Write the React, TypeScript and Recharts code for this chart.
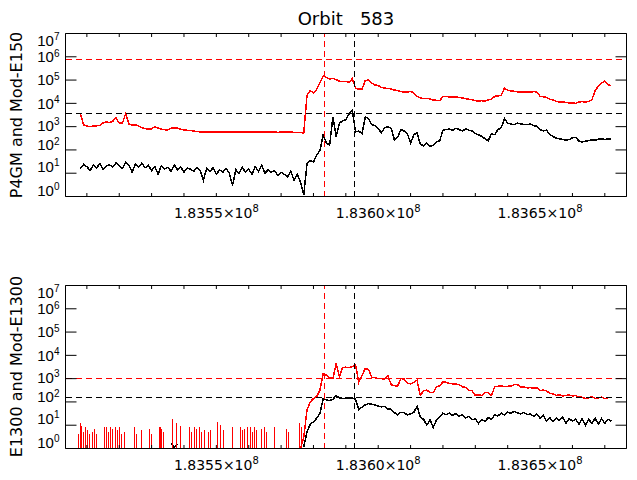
import React from 'react';
import { LineChart, Line, XAxis, YAxis, ReferenceLine } from 'recharts';

// sample times: T0 + i * DT
const T0 = 183508000;
const DT = 1000;

const TOP_RED = [
  3500, 1200, 1050, 1020, 1060, 1080, 1150, 1450, 1600, 1500,
  1700, 2400, 1400, 1450, 3600, 1300, 1150, 1200, 1050, 900,
  820, 800, 800, 1000, 870, 780, 740, 720, 850, 880,
  860, 780, 720, 700, 680, 650, 610, 600, 590, 600,
  595, 585, 590, 600, 590, 580, 590, 585, 575, 590,
  600, 590, 580, 585, 595, 590, 580, 575, 585, 590,
  580, 570, 585, 590, 575, 580, 570, 560, 555, 540,
  22000, 35000, 28000, 40000, 80000, 150000, 130000, 110000, 120000, 105000,
  90000, 85000, 88000, 80000, 115000, 45000, 40000, 42000, 95000, 100000,
  75000, 62000, 58000, 48000, 45000, 43000, 42000, 37000, 36000, 32000,
  31000, 30000, 33000, 28000, 20000, 17000, 16000, 16500, 15500, 14000,
  13500, 13000, 20000, 19500, 19000, 18500, 19000, 18000, 17000, 16000,
  15000, 14500, 13000, 12500, 13000, 12500, 14000, 15000, 20000, 21000,
  22000, 45000, 36000, 34000, 33000, 31000, 31000, 30000, 31000, 30000,
  32000, 31000, 20000, 19000, 18000, 15000, 14000, 12000, 11500, 11500,
  11000, 10500, 10500, 10000, 11500, 11800, 11500, 12000, 14000, 35000,
  55000, 75000, 90000, 62000, 58000,
];

const TOP_BLACK = [
  16, 24, 19, 13, 22, 17, 26, 15, 20, 23,
  18, 28, 21, 16, 30, 22, 11, 25, 19, 27,
  17, 22, 13, 19, 9, 21, 15, 18, 12, 23,
  14, 19, 11, 17, 15, 12, 18, 13, 5, 16,
  12, 17, 9, 14, 11, 16, 10, 3, 14, 10,
  18, 11, 15, 9, 19, 12, 22, 10, 14, 11,
  13, 8, 11, 9, 7, 12, 5, 9, 4, 1.2,
  25, 35, 30, 60, 95, 450, 200, 160, 2600, 380,
  1400, 1800, 2000, 3500, 5000, 600, 650, 500, 2600, 2200,
  1200, 1100, 800, 550, 900, 1000, 850, 270, 350, 750,
  650, 500, 200, 450, 550, 180, 150, 200, 140, 160,
  220, 250, 700, 750, 800, 700, 850, 750, 650, 800,
  700, 650, 500, 450, 380, 300, 250, 500, 450, 750,
  900, 2200, 1400, 1300, 1200, 1400, 1300, 1250, 1200, 1300,
  1100, 1050, 750, 650, 700, 450, 380, 320, 300, 280,
  260, 280, 330, 350, 240, 220, 240, 250, 270, 260,
  290, 300, 280, 300, 290,
];

// E1300: before the rise only isolated count spikes above a floor of 1
const SPIKE_T = [
  183507400, 183507900, 183508300, 183509000, 183509600, 183510200, 183510800,
  183511800, 183512500, 183513100, 183515400, 183516000, 183516600, 183517200,
  183517800, 183518800, 183519500, 183520100, 183520700, 183521500, 183524800,
  183525400, 183526900, 183529300, 183529900, 183532400, 183532800, 183533200,
  183533600, 183536300, 183537600, 183539000, 183541700, 183542300, 183543300,
  183544000, 183544800, 183545400, 183546400, 183547700, 183548300, 183550500,
  183551200, 183552200, 183555100, 183557600, 183558200, 183558800, 183559600,
  183560400, 183561100, 183561900, 183562500, 183563900, 183564800, 183565400,
  183568100, 183571600, 183572400, 183575700, 183576300,
];
const SPIKE_H = [
  4, 13, 9, 5, 8, 6, 4,
  5, 7, 4, 8, 8, 5, 8,
  7, 8, 6, 8, 4, 5, 8,
  4, 6, 7, 4, 8, 8, 7,
  5, 18, 12, 9, 8, 5, 8,
  7, 8, 5, 6, 5, 6, 14,
  10, 6, 8, 8, 6, 7, 8,
  8, 5, 8, 6, 7, 8, 5,
  8, 7, 5, 13, 8,
];

const BOT_RED = [
  null, null, null, null, null, null, null, null, null, null,
  null, null, null, null, null, null, null, null, null, null,
  null, null, null, null, null, null, null, null, null, null,
  null, null, null, null, null, null, null, null, null, null,
  null, null, null, null, null, null, null, null, null, null,
  null, null, null, null, null, null, null, null, null, null,
  null, null, null, null, null, null, null, null, 1, 3,
  45, 100, 140, 170, 320, 1600, 1400, 1100, 1000, 4400,
  1200, 3000, 3100, 3000, 3300, 3800, 700, 1400, 2700, 2500,
  1150, 1100, 1000, 1000, 950, 1300, 550, 500, 480, 1000,
  950, 650, 600, 700, 850, 190, 300, 320, 260, 250,
  450, 500, 720, 700, 620, 600, 580, 550, 450, 420,
  320, 300, 190, 200, 190, 260, 250, 190, 450, 470,
  480, 460, 470, 480, 550, 560, 420, 450, 400, 410,
  390, 400, 310, 320, 300, 230, 220, 190, 200, 180,
  190, 200, 180, 190, 160, 160, 140, 150, 170, 140,
  150, 160, 140, 150, 160,
];

const BOT_BLACK = [
  null, null, null, null, null, null, null, null, null, null,
  null, null, null, null, null, null, null, null, null, null,
  null, null, null, null, null, null, null, null, 1.6, 1.1,
  1.5, null, null, null, null, null, null, null, null, null,
  null, null, null, null, null, null, null, null, null, null,
  null, null, null, null, null, null, null, null, null, null,
  null, null, null, null, null, null, null, null, null, 1.2,
  5, 11, 14, 20, 32, 140, 120, 115, 130, 190,
  150, 140, 145, 140, 150, 130, 46, 60, 75, 85,
  80, 75, 66, 62, 65, 50, 48, 35, 28, 36,
  34, 28, 31, 35, 66, 22, 18, 10, 17, 8,
  17, 22, 33, 28, 34, 26, 32, 24, 29, 21,
  24, 17, 19, 12, 17, 15, 21, 18, 28, 25,
  33, 27, 36, 32, 40, 34, 30, 36, 28, 31,
  24, 30, 20, 26, 15, 21, 14, 20, 16, 22,
  12, 19, 15, 18, 11, 19, 10, 18, 12, 20,
  11, 19, 12, 18, 15,
];

const X_DOMAIN = [183503400, 183676700];
const X_TICKS = [
  183510000, 183520000, 183530000, 183540000, 183550000, 183560000,
  183570000, 183580000, 183590000, 183600000, 183610000, 183620000,
  183630000, 183640000, 183650000, 183660000, 183670000,
];
const X_LABELS = [183550000, 183600000, 183650000];
const Y_TICKS = [1, 10, 100, 1000, 10000, 100000, 1000000, 10000000];

const V_LINES = [183583300, 183592800]; // red, black
const TOP_LEVELS = [760000, 3700]; // red, black
const BOT_LEVELS = [1000, 150]; // red, black

const FONT = '"DejaVu Sans", sans-serif';
const LABEL_DY = [-6, -7, -5, -1, 0, 0, 0, 7];
const DASH = '6 4';

const buildRows = (red: (number | null)[], black: (number | null)[]) =>
  red.map((v, i) => ({ t: T0 + i * DT, red: v, black: black[i] }));

// each spike drawn as a vertical stroke up from the floor
const spikeRows = SPIKE_T.flatMap((t, i) => [
  { t, red: 1 },
  { t, red: SPIKE_H[i] },
  { t, red: 1 },
]);

const BottomTick = ({ x, y, payload }: any) => {
  const v = payload.value;
  return (
    <g>
      <line x1={x} x2={x} y1={y} y2={y - 3.5} stroke="#000" />
      {X_LABELS.includes(v) && (
        <text x={x} y={y + 21} textAnchor="middle" fontFamily={FONT} fontSize={14} fill="#000">
          {(v / 1e8).toFixed(4)}×10
          <tspan dy={-6} fontSize={10}>8</tspan>
        </text>
      )}
    </g>
  );
};

const TopTick = ({ x, y }: any) => (
  <line x1={x} x2={x} y1={y} y2={y + 3.5} stroke="#000" />
);

const LeftTick = ({ x, y, payload }: any) => {
  const e = Math.round(Math.log10(payload.value));
  return (
    <g>
      <line x1={x} x2={x + 11} y1={y} y2={y} stroke="#000" />
      <text
        x={x - 6}
        y={y + 5.3 + LABEL_DY[e]}
        textAnchor="end"
        fontFamily='"Liberation Sans", sans-serif'
        fontSize={15}
        fill="#000"
      >
        10
        <tspan dy={-5.5} fontSize={10}>{e}</tspan>
      </text>
    </g>
  );
};

const RightTick = ({ x, y }: any) => (
  <line x1={x} x2={x - 11} y1={y} y2={y} stroke="#000" />
);

const Panel = ({ rows, levels, top, bottom, extraRed }: any) => (
  <LineChart
    width={637}
    height={240}
    data={rows}
    margin={{ top, right: 9.5, bottom, left: 64.5 }}
  >
    <XAxis
      xAxisId="b"
      type="number"
      dataKey="t"
      domain={X_DOMAIN}
      ticks={X_TICKS}
      interval={0}
      allowDataOverflow
      height={1}
      tickSize={0}
      tickMargin={0}
      tickLine={false}
      axisLine={{ stroke: '#000' }}
      tick={(p: any) => <BottomTick {...p} />}
    />
    <XAxis
      xAxisId="t"
      orientation="top"
      type="number"
      dataKey="t"
      domain={X_DOMAIN}
      ticks={X_TICKS}
      interval={0}
      allowDataOverflow
      height={1}
      tickSize={0}
      tickMargin={0}
      tickLine={false}
      axisLine={{ stroke: '#000' }}
      tick={(p: any) => <TopTick {...p} />}
    />
    <YAxis
      yAxisId="l"
      scale="log"
      domain={[1, 10000000]}
      ticks={Y_TICKS}
      interval={0}
      allowDataOverflow
      width={1}
      tickSize={0}
      tickMargin={0}
      tickLine={false}
      axisLine={{ stroke: '#000' }}
      tick={(p: any) => <LeftTick {...p} />}
    />
    <YAxis
      yAxisId="r"
      orientation="right"
      scale="log"
      domain={[1, 10000000]}
      ticks={Y_TICKS}
      interval={0}
      allowDataOverflow
      width={1}
      tickSize={0}
      tickMargin={0}
      tickLine={false}
      axisLine={{ stroke: '#000' }}
      tick={(p: any) => <RightTick {...p} />}
    />
    <Line
      xAxisId="b"
      yAxisId="l"
      type="linear"
      dataKey="black"
      stroke="#000"
      strokeWidth={1.5}
      shapeRendering="crispEdges"
      dot={false}
      isAnimationActive={false}
    />
    {extraRed && (
      <Line
        xAxisId="b"
        yAxisId="l"
        type="linear"
        data={extraRed}
        dataKey="red"
        stroke="#ff0000"
        strokeWidth={1}
        shapeRendering="crispEdges"
        dot={false}
        isAnimationActive={false}
      />
    )}
    <Line
      xAxisId="b"
      yAxisId="l"
      type="linear"
      dataKey="red"
      stroke="#ff0000"
      strokeWidth={1.5}
      shapeRendering="crispEdges"
      dot={false}
      isAnimationActive={false}
    />
    <ReferenceLine xAxisId="b" yAxisId="l" y={levels[0]} stroke="#ff0000" strokeDasharray={DASH} shapeRendering="crispEdges" />
    <ReferenceLine xAxisId="b" yAxisId="l" y={levels[1]} stroke="#000" strokeDasharray={DASH} shapeRendering="crispEdges" />
    <ReferenceLine xAxisId="b" yAxisId="l" x={V_LINES[0]} stroke="#ff0000" strokeDasharray={DASH} shapeRendering="crispEdges" />
    <ReferenceLine xAxisId="b" yAxisId="l" x={V_LINES[1]} stroke="#000" strokeDasharray={DASH} shapeRendering="crispEdges" />
  </LineChart>
);

const App = () => {
  const topRows = buildRows(TOP_RED, TOP_BLACK);
  const botRows = buildRows(BOT_RED, BOT_BLACK);
  return (
    <div style={{ position: 'absolute', left: 0, top: 0, width: 637, height: 480, background: '#fff' }}>
      <Panel rows={topRows} levels={TOP_LEVELS} top={32.5} bottom={42.5} />
      <Panel rows={botRows} levels={BOT_LEVELS} top={44.5} bottom={30.5} extraRed={spikeRows} />
      <svg
        width={637}
        height={480}
        style={{ position: 'absolute', left: 0, top: 0, pointerEvents: 'none' }}
      >
        <text x={346} y={25} textAnchor="middle" fontFamily={FONT} fontSize={18} fill="#000">
          {'Orbit\u00a0\u00a0\u00a0583'}
        </text>
        <text
          transform="translate(21.5,115) rotate(-90)"
          textAnchor="middle"
          fontFamily={FONT}
          fontSize={16}
          fill="#000"
        >
          P4GM and Mod-E150
        </text>
        <text
          transform="translate(21.5,366.5) rotate(-90)"
          textAnchor="middle"
          fontFamily={FONT}
          fontSize={16}
          fill="#000"
        >
          E1300 and Mod-E1300
        </text>
      </svg>
    </div>
  );
};

export default App;
